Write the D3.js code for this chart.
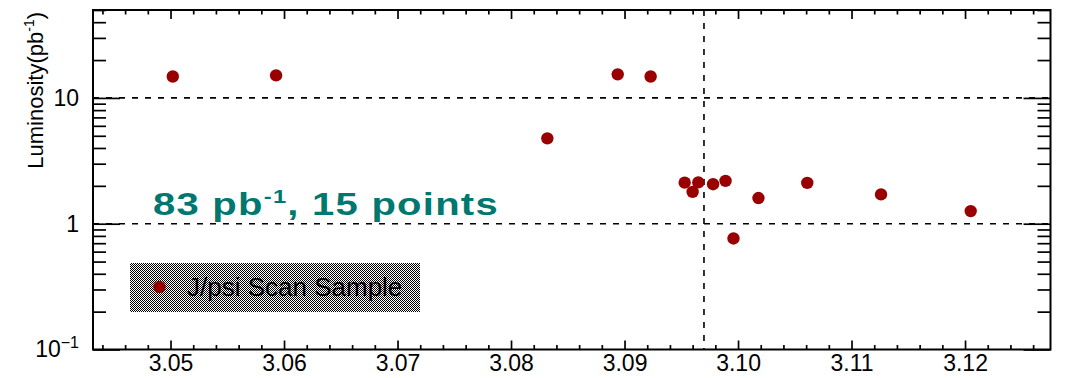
<!DOCTYPE html>
<html>
<head>
<meta charset="utf-8">
<script src="https://cdn.jsdelivr.net/npm/d3@7"></script>
<style>
  body { margin: 0; background: #fff; }
  svg { display: block; font-family: "Liberation Sans", Arial, sans-serif; }
  .tick line { stroke: #000; stroke-width: 1.7; }
</style>
</head>
<body>
<div id="chart"></div>
<script>
// scan energies (GeV) and integrated luminosity per point (pb^-1)
const energies = [3.0502, 3.0593, 3.0832, 3.0894, 3.0923, 3.0953, 3.0960, 3.0965, 3.0978, 3.0989, 3.0996, 3.1018, 3.1061, 3.1126, 3.1205];
const lumis = [14.8, 15.1, 4.77, 15.4, 14.8, 2.12, 1.79, 2.13, 2.06, 2.19, 0.763, 1.60, 2.11, 1.71, 1.26];

const xMajor = [3.05, 3.06, 3.07, 3.08, 3.09, 3.10, 3.11, 3.12];
const xLabels = ["3.05", "3.06", "3.07", "3.08", "3.09", "3.10", "3.11", "3.12"];
const yMajor = [0.1, 1, 10];
const yLabels = ["10", "1", "10"];
const yGrid = [1, 10];
const jpsiMass = [3.097];
const legendLabel = "J/psi Scan Sample";

const width = 1066;
const height = 378;
const frame = { left: 93, right: 1050.5, top: 10, bottom: 349.5 };
const labelFont = "\"Liberation Sans\", Arial, sans-serif";

const points = energies.map((e, i) => ({ e, lumi: lumis[i] }));

// ROOT style: 10% margin around the graph range
const [eMin, eMax] = d3.extent(energies);
const pad = (eMax - eMin) * 0.1;

const x = d3.scaleLinear()
  .domain([eMin - pad, eMax + pad])
  .range([frame.left, frame.right]);

const y = d3.scaleLog()
  .domain([0.1, 50])
  .range([frame.bottom, frame.top]);

const xMinor = d3.range(3.044, 3.1275, 0.002).filter((v) => !xMajor.some((m) => Math.abs(m - v) < 1e-6));
const yMinor = [];
[0.1, 1, 10].forEach((dec) => d3.range(2, 10).forEach((k) => { if (k * dec <= 50) yMinor.push(k * dec); }));

const svg = d3.select("#chart")
  .append("svg")
  .attr("width", width)
  .attr("height", height);

const defs = svg.append("defs");
const pat = defs.append("pattern")
  .attr("id", "checker")
  .attr("patternUnits", "userSpaceOnUse")
  .attr("width", 2)
  .attr("height", 2);
pat.append("rect").attr("width", 2).attr("height", 2).attr("fill", "#fff");
pat.append("rect").attr("width", 1).attr("height", 1).attr("fill", "#000");
pat.append("rect").attr("x", 1).attr("y", 1).attr("width", 1).attr("height", 1).attr("fill", "#000");

// dashed grid at the major decades and the J/psi mass line
svg.append("g")
  .selectAll("line")
  .data(yGrid)
  .join("line")
  .attr("x1", frame.left)
  .attr("x2", frame.right)
  .attr("y1", (d) => y(d))
  .attr("y2", (d) => y(d))
  .attr("stroke", "#000")
  .attr("stroke-width", 1.6)
  .attr("stroke-dasharray", "6,7");

svg.append("g")
  .selectAll("line")
  .data(jpsiMass)
  .join("line")
  .attr("x1", (d) => x(d))
  .attr("x2", (d) => x(d))
  .attr("y1", frame.top)
  .attr("y2", frame.bottom)
  .attr("stroke", "#000")
  .attr("stroke-width", 1.6)
  .attr("stroke-dasharray", "6,7");

// annotation (wide bold face in the original)
const note = svg.append("text")
  .attr("transform", "translate(153,215) scale(1.25,1)")
  .attr("fill", "#00786f")
  .attr("font-size", 32)
  .attr("font-weight", "bold")
  .attr("letter-spacing", 1);
note.append("tspan").text("83 pb");
note.append("tspan").attr("font-size", 19).attr("dy", -12).text("-1");
note.append("tspan").attr("dy", 12).text(", 15 points");

// data points
svg.append("g")
  .selectAll("circle")
  .data(points)
  .join("circle")
  .attr("cx", (d) => x(d.e))
  .attr("cy", (d) => y(d.lumi))
  .attr("r", 6.2)
  .attr("fill", "#990000");

// legend
const legend = svg.append("g");
legend.append("rect")
  .attr("x", 130)
  .attr("y", 263)
  .attr("width", 290)
  .attr("height", 49)
  .attr("fill", "url(#checker)");
legend.append("circle")
  .attr("cx", 159.5)
  .attr("cy", 287)
  .attr("r", 6.2)
  .attr("fill", "#990000");
legend.append("text")
  .attr("x", 187)
  .attr("y", 296)
  .attr("font-size", 26)
  .attr("fill", "#000")
  .text(legendLabel);

// axes
function tidy(g) {
  g.select(".domain").remove();
  g.style("font-family", labelFont).style("font-size", "23px");
  g.selectAll("text").attr("fill", "#000");
}

svg.append("g")
  .attr("transform", `translate(0,${frame.bottom})`)
  .call(d3.axisBottom(x).tickValues(xMajor).tickSize(-9).tickPadding(5).tickFormat((d, i) => xLabels[i]))
  .call(tidy);

svg.append("g")
  .attr("transform", `translate(0,${frame.bottom})`)
  .call(d3.axisBottom(x).tickValues(xMinor).tickSize(-4.5).tickFormat(""))
  .call(tidy);

svg.append("g")
  .attr("transform", `translate(0,${frame.top})`)
  .call(d3.axisTop(x).tickValues(xMajor).tickSize(-9).tickFormat(""))
  .call(tidy);

svg.append("g")
  .attr("transform", `translate(0,${frame.top})`)
  .call(d3.axisTop(x).tickValues(xMinor).tickSize(-4.5).tickFormat(""))
  .call(tidy);

const yAxis = svg.append("g")
  .attr("transform", `translate(${frame.left},0)`)
  .call(d3.axisLeft(y).tickValues(yMajor).tickSize(-27).tickPadding(14).tickFormat((d, i) => yLabels[i]))
  .call(tidy);
yAxis.selectAll(".tick")
  .filter((d) => d === 0.1)
  .select("text")
  .append("tspan")
  .attr("font-size", 16)
  .attr("dy", "-0.6em")
  .text("\u22121");

svg.append("g")
  .attr("transform", `translate(${frame.left},0)`)
  .call(d3.axisLeft(y).tickValues(yMinor).tickSize(-13).tickFormat(""))
  .call(tidy);

svg.append("g")
  .attr("transform", `translate(${frame.right},0)`)
  .call(d3.axisRight(y).tickValues(yMajor).tickSize(-27).tickFormat(""))
  .call(tidy);

svg.append("g")
  .attr("transform", `translate(${frame.right},0)`)
  .call(d3.axisRight(y).tickValues(yMinor).tickSize(-13).tickFormat(""))
  .call(tidy);

// frame
svg.append("rect")
  .attr("x", frame.left)
  .attr("y", frame.top)
  .attr("width", frame.right - frame.left)
  .attr("height", frame.bottom - frame.top)
  .attr("fill", "none")
  .attr("stroke", "#000")
  .attr("stroke-width", 2);

// y title
const yTitle = svg.append("text")
  .attr("transform", "translate(43,12) rotate(-90)")
  .attr("text-anchor", "end")
  .attr("font-size", 22)
  .attr("fill", "#000");
yTitle.append("tspan").text("Luminosity(pb");
yTitle.append("tspan").attr("font-size", 14).attr("dy", -9).text("-1");
yTitle.append("tspan").attr("dy", 9).text(")");
</script>
</body>
</html>
